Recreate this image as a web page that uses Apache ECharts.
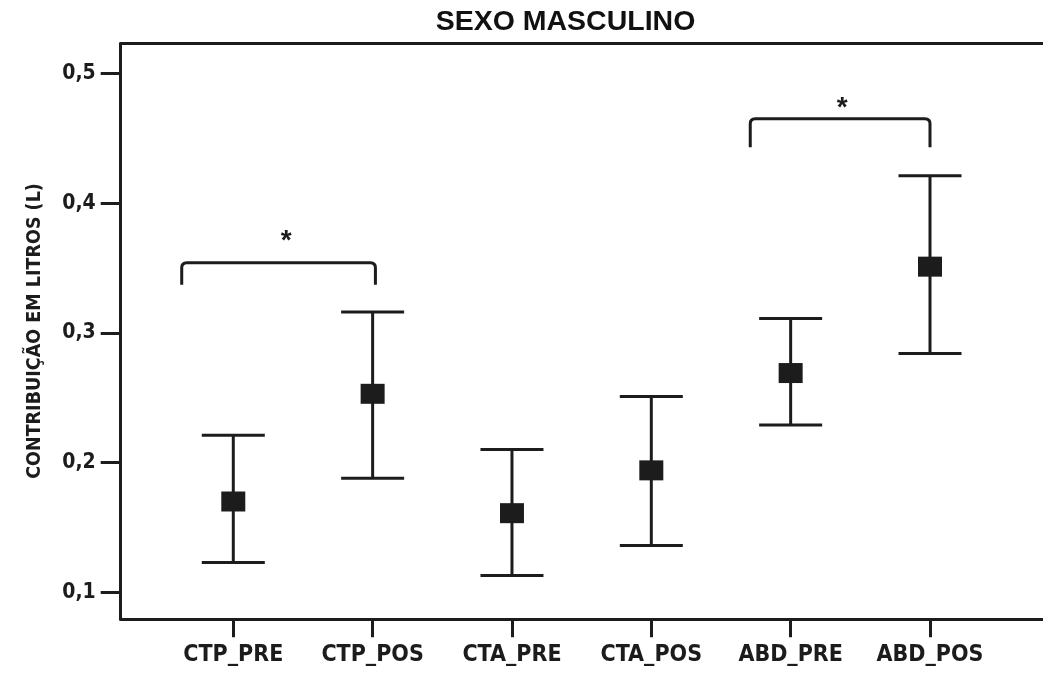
<!DOCTYPE html>
<html>
<head>
<meta charset="utf-8">
<script src="https://cdn.jsdelivr.net/npm/echarts@6/dist/echarts.min.js"></script>
<style>
html,body{margin:0;padding:0;background:#fff;}
#chart{width:1043px;height:675px;}
</style>
</head>
<body>
<div id="chart"></div>
<script>
const categories = ['CTP_PRE', 'CTP_POS', 'CTA_PRE', 'CTA_POS', 'ABD_PRE', 'ABD_POS'];
const means  = [0.170, 0.253, 0.161, 0.194, 0.269, 0.351];
const lowers = [0.123, 0.188, 0.113, 0.136, 0.229, 0.284];
const uppers = [0.221, 0.316, 0.210, 0.251, 0.311, 0.421];
const yTicks = [0.1, 0.2, 0.3, 0.4, 0.5];
const brackets = [
  { from: 0.63, to: 2.02, top: 0.354, bottom: 0.337, label: '*', starX: 1.38, starY: 0.374 },
  { from: 4.71, to: 6.00, top: 0.465, bottom: 0.443, label: '*', starX: 5.37, starY: 0.476 }
];
const titleText = 'SEXO MASCULINO';
const yName = 'CONTRIBUIÇÃO EM LITROS (L)';

const INK = '#1c1c1c';
const COND = "'Liberation Sans Narrow', 'DejaVu Sans Condensed', 'Roboto Condensed', 'Liberation Sans', sans-serif";

const positions = categories.map((c, i) => i + 1);
const barData = positions.map((p, i) => [p, means[i], lowers[i], uppers[i]]);
const bracketData = brackets.map(b => [b.from, b.to, b.top, b.bottom, b.starX, b.starY]);

const chart = echarts.init(document.getElementById('chart'));
chart.setOption({
  backgroundColor: '#fff',
  animation: false,
  grid: { left: 120.7, right: 0, top: 43.5, bottom: 55.7 },
  graphic: [
    { type: 'text', x: 565.5, y: 22, style: { text: titleText, font: "bold 28.5px 'Liberation Sans', Arial, sans-serif", fill: '#111', align: 'center', verticalAlign: 'middle' } },
    { type: 'text', x: 35, y: 331, rotation: Math.PI / 2, style: { text: yName, font: "bold 19.5px " + COND, fill: INK, align: 'center', verticalAlign: 'middle' } }
  ],
  xAxis: [
    {
      type: 'value', min: 0.192, max: 6.811,
      splitLine: { show: false },
      axisLine: { show: true, onZero: false, lineStyle: { color: INK, width: 3 } },
      axisTick: { show: true, customValues: positions, length: 18, lineStyle: { color: INK, width: 3 } },
      axisLabel: { customValues: positions, margin: 24, formatter: v => categories[Math.round(v) - 1] || '', color: INK, fontFamily: COND, fontWeight: 'bold', fontSize: 23 }
    },
    {
      type: 'value', position: 'top', min: 0.192, max: 6.811,
      splitLine: { show: false },
      axisLine: { show: true, onZero: false, lineStyle: { color: INK, width: 3 } },
      axisTick: { show: false },
      axisLabel: { show: false }
    }
  ],
  yAxis: {
    type: 'value', min: 0.0792, max: 0.523,
    splitLine: { show: false },
    axisLine: { show: true, onZero: false, lineStyle: { color: INK, width: 3 } },
    axisTick: { show: true, customValues: yTicks, length: 20, lineStyle: { color: INK, width: 3 } },
    axisLabel: { customValues: yTicks, margin: 25, formatter: v => v.toFixed(1).replace('.', ','), color: INK, fontFamily: COND, fontWeight: 'bold', fontSize: 21 }
  },
  series: [
    {
      type: 'custom',
      xAxisIndex: 0,
      data: barData,
      renderItem: function (params, api) {
        const x = api.value(0);
        const pm = api.coord([x, api.value(1)]);
        const pl = api.coord([x, api.value(2)]);
        const pu = api.coord([x, api.value(3)]);
        const hw = 31.5;
        const ls = { stroke: INK, lineWidth: 3 };
        return {
          type: 'group',
          children: [
            { type: 'line', shape: { x1: pm[0], y1: pu[1], x2: pm[0], y2: pl[1] }, style: ls },
            { type: 'line', shape: { x1: pm[0] - hw, y1: pu[1], x2: pm[0] + hw, y2: pu[1] }, style: ls },
            { type: 'line', shape: { x1: pm[0] - hw, y1: pl[1], x2: pm[0] + hw, y2: pl[1] }, style: ls },
            { type: 'rect', shape: { x: pm[0] - 12, y: pm[1] - 10, width: 24, height: 20 }, style: { fill: INK } }
          ]
        };
      }
    },
    {
      type: 'custom',
      xAxisIndex: 0,
      data: bracketData,
      renderItem: function (params, api) {
        const a = api.coord([api.value(0), api.value(2)]);
        const b = api.coord([api.value(1), api.value(3)]);
        const s = api.coord([api.value(4), api.value(5)]);
        const r = 5;
        const x1 = a[0], x2 = b[0], yt = a[1], yb = b[1];
        const d = `M${x1},${yb} L${x1},${yt + r} Q${x1},${yt} ${x1 + r},${yt} L${x2 - r},${yt} Q${x2},${yt} ${x2},${yt + r} L${x2},${yb}`;
        const b0 = brackets[params.dataIndex];
        return {
          type: 'group',
          children: [
            { type: 'path', shape: { pathData: d }, style: { stroke: INK, lineWidth: 3, fill: null } },
            { type: 'text', x: s[0], y: s[1] + 4, style: { text: b0.label, font: "bold 28px 'Liberation Sans', Arial, sans-serif", fill: INK, align: 'center', verticalAlign: 'middle' } }
          ]
        };
      }
    }
  ]
});
</script>
</body>
</html>
